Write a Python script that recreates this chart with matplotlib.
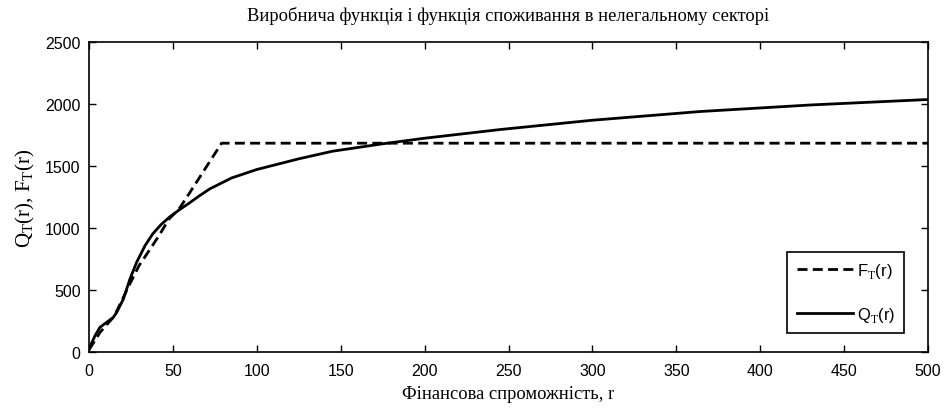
import matplotlib
matplotlib.use("Agg")
import matplotlib.pyplot as plt

# F_T(r): production function (dashed)
f_r = [0, 6.6, 15, 23.8, 29.8, 35.8, 41.7, 47.7, 53.7, 59.6, 79, 500]
f_v = [20, 161, 290, 537, 698, 819, 940, 1075, 1156, 1277, 1685, 1685]

# Q_T(r): consumption function (solid)
q_r = [0, 3.6, 6.5, 14.5, 16.5, 20.5, 24.4, 28.4, 33.4, 38, 43, 48, 54,
       60, 66, 72, 85, 100, 125, 145, 175, 200, 245, 300, 364, 430, 500]
q_v = [30, 134, 201, 282, 322, 430, 591, 726, 860, 955, 1030, 1090, 1150,
       1205, 1263, 1317, 1405, 1473, 1559, 1620, 1680, 1725, 1795, 1870,
       1940, 1993, 2037]

x_ticks = [0, 50, 100, 150, 200, 250, 300, 350, 400, 450, 500]
y_ticks = [0, 500, 1000, 1500, 2000, 2500]

sans = ["Liberation Sans Narrow", "Liberation Sans", "DejaVu Sans"]
serif = ["Liberation Serif", "DejaVu Serif"]
plt.rcParams["mathtext.fontset"] = "custom"
plt.rcParams["mathtext.rm"] = "Liberation Sans"

fig = plt.figure(figsize=(9.45, 4.1), dpi=100)
ax = fig.add_axes([0.0942, 0.1383, 0.8878, 0.7567])

ax.plot(f_r, f_v, color="black", lw=2, ls=(0, (3.6, 1.9)), label=r"F$_\mathrm{T}$(r)")
ax.plot(q_r, q_v, color="black", lw=2, label=r"Q$_\mathrm{T}$(r)")

ax.set_xlim(0, 500)
ax.set_ylim(0, 2500)
ax.set_xticks(x_ticks)
ax.set_yticks(y_ticks)
ax.tick_params(direction="in", top=True, right=True, length=5, width=1)
ax.tick_params(axis="x", pad=8)
ax.tick_params(axis="y", pad=6)
for lab in ax.get_xticklabels() + ax.get_yticklabels():
    lab.set_family(sans)
    lab.set_fontsize(11.5)
for s in ax.spines.values():
    s.set_linewidth(1.2)

leg = ax.legend(loc="lower right", bbox_to_anchor=(0.9714, 0.062), borderaxespad=0,
                frameon=True, fancybox=False, edgecolor="black", framealpha=1,
                prop={"family": sans, "size": 12}, handlelength=3.4,
                handletextpad=0.2, labelspacing=1.5, borderpad=0.55)
leg.get_frame().set_linewidth(1.2)

plt.rcParams["mathtext.rm"] = "Liberation Serif"
ax.set_title("Виробнича функція і функція споживання в нелегальному секторі",
             family=serif, fontsize=13.3, pad=16)
ax.set_xlabel("Фінансова спроможність, r", family=serif, fontsize=13.3, labelpad=5)
ax.set_ylabel(r"Q$_\mathrm{T}$(r), F$_\mathrm{T}$(r)", family=serif, fontsize=15,
              labelpad=6)

fig.savefig("out.png", dpi=100)
